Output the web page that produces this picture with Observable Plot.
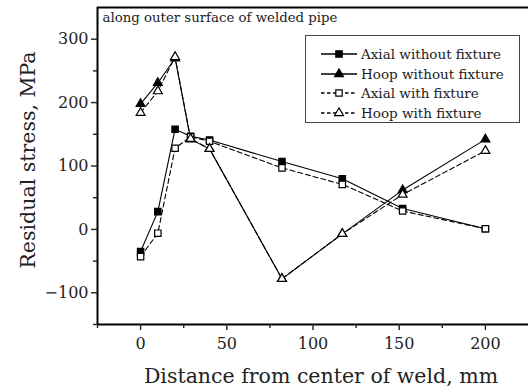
<!DOCTYPE html>
<html>
<head>
<meta charset="utf-8">
<script src="https://cdn.jsdelivr.net/npm/d3@7"></script>
<script src="https://cdn.jsdelivr.net/npm/@observablehq/plot@0.6"></script>
<style>
  html, body { margin: 0; padding: 0; background: #fff; }
  #wrap { position: relative; width: 528px; height: 392px; overflow: hidden; font-family: "DejaVu Serif", serif; color: #222; }
  #wrap svg text { font-family: "DejaVu Serif", serif; }
  #legend { position: absolute; left: 305px; top: 35px; width: 215px; height: 88px; border: 1.5px solid #444; background: #fff; box-sizing: border-box; }
  .row { position: absolute; left: 0; height: 20px; display: flex; align-items: center; }
  .row svg { display: block; }
  .row span { font-size: 13.5px; margin-left: 3px; white-space: nowrap; }
</style>
</head>
<body>
<div id="wrap"></div>
<script>
// ---- data ----
const distance = [0, 10, 20, 29, 40, 82, 117, 152, 200];
const axialWithout = [-35, 28, 158, 147, 141, 107, 80, 33, 1];
const hoopWithout  = [198, 231, 270, 142, 127, -78, -7, 62, 142];
const axialWith    = [-43, -6, 128, 146, 139, 97, 71, 29, 1];
const hoopWith     = [184, 218, 272, 143, 127, -78, -7, 55, 124];
const seriesNames = ["Axial without fixture", "Hoop without fixture", "Axial with fixture", "Hoop with fixture"];
const xTicks = [0, 50, 100, 150, 200];
const xMinor = [-25, 25, 75, 125, 175];
const yTicks = [-100, 0, 100, 200, 300];
const yMinor = [-150, -50, 50, 150, 250];
const annotation = "along outer surface of welded pipe";
const xLabel = "Distance from center of weld, mm";
const yLabel = "Residual stress, MPa";

const seriesVals = [axialWithout, hoopWithout, axialWith, hoopWith];
const data = [];
seriesVals.forEach((vals, i) => vals.forEach((v, j) => data.push({series: seriesNames[i], x: distance[j], y: v})));
const of = name => data.filter(d => d.series === name);

const styles = {
  "Axial without fixture": {symbol: "square", fill: "black", dash: null, r: 3.6},
  "Hoop without fixture":  {symbol: "triangle", fill: "black", dash: null, r: 3.3},
  "Axial with fixture":    {symbol: "square", fill: "white", dash: "5,3", r: 3.6},
  "Hoop with fixture":     {symbol: "triangle", fill: "white", dash: "5,3", r: 3.3}
};

const marks = [];
for (const name of seriesNames) {
  const s = styles[name];
  marks.push(Plot.line(of(name), {x: "x", y: "y", stroke: "black", strokeWidth: 1.1, strokeDasharray: s.dash}));
}
for (const name of seriesNames) {
  const s = styles[name];
  marks.push(Plot.dot(of(name), {x: "x", y: "y", symbol: s.symbol, r: s.r, fill: s.fill, stroke: "black", strokeWidth: 1.2}));
}

const FF = "DejaVu Serif";
const plot = Plot.plot({
  width: 528,
  height: 392,
  marginLeft: 97,
  marginTop: 7,
  marginBottom: 68,
  marginRight: 0,
  style: {fontFamily: FF, color: "#222", background: "white"},
  x: {domain: [-25, 225]},
  y: {domain: [-150, 350]},
  marks: [
    ...marks,
    Plot.ruleX([-25], {stroke: "black", strokeWidth: 2}),
    Plot.ruleY([-150, 350], {stroke: "black", strokeWidth: 2}),
    Plot.axisX({ticks: xTicks, tickSize: 6, tickPadding: 7, fontSize: 16, label: null, strokeWidth: 1.4}),
    Plot.axisX({ticks: xMinor, tickSize: 4, text: null, label: null, strokeWidth: 1.4}),
    Plot.axisY({ticks: yTicks, tickSize: 6, tickPadding: 3, fontSize: 16, label: null, strokeWidth: 1.4}),
    Plot.axisY({ticks: yMinor, tickSize: 4, text: null, label: null, strokeWidth: 1.4}),
    Plot.text([annotation], {frameAnchor: "top-left", dx: 5, dy: 5, textAnchor: "start", lineAnchor: "top", fontSize: 13.3, fontFamily: FF, fill: "#222"}),
    Plot.text([xLabel], {frameAnchor: "bottom", dx: 8, dy: 52, textAnchor: "middle", lineAnchor: "middle", fontSize: 20.5, fontFamily: FF, fill: "#222"}),
    Plot.text([yLabel], {frameAnchor: "left", dx: -69, dy: -6, rotate: -90, textAnchor: "middle", lineAnchor: "middle", fontSize: 20.5, fontFamily: FF, fill: "#222"})
  ]
});

const wrap = document.getElementById("wrap");
wrap.appendChild(plot);

// legend (HTML overlay)
const legend = document.createElement("div");
legend.id = "legend";
seriesNames.forEach((name, i) => {
  const s = styles[name];
  const row = document.createElement("div");
  row.className = "row";
  row.style.top = (8 + i * 19.7) + "px";
  row.style.left = "14px";
  const ns = "http://www.w3.org/2000/svg";
  const svg = document.createElementNS(ns, "svg");
  svg.setAttribute("width", 38); svg.setAttribute("height", 20);
  const line = document.createElementNS(ns, "line");
  line.setAttribute("x1", 1); line.setAttribute("x2", 37);
  line.setAttribute("y1", 10); line.setAttribute("y2", 10);
  line.setAttribute("stroke", "black"); line.setAttribute("stroke-width", 1.3);
  if (s.dash) line.setAttribute("stroke-dasharray", "3.5,2.5");
  svg.appendChild(line);
  const sym = document.createElementNS(ns, "path");
  const shape = s.symbol === "square" ? d3.symbolSquare : d3.symbolTriangle;
  sym.setAttribute("d", d3.symbol(shape, Math.PI * s.r * s.r)());
  sym.setAttribute("transform", "translate(19,10)");
  sym.setAttribute("fill", s.fill);
  sym.setAttribute("stroke", "black");
  sym.setAttribute("stroke-width", 1.2);
  svg.appendChild(sym);
  row.appendChild(svg);
  const span = document.createElement("span");
  span.textContent = name;
  row.appendChild(span);
  legend.appendChild(row);
});
wrap.appendChild(legend);
</script>
</body>
</html>
